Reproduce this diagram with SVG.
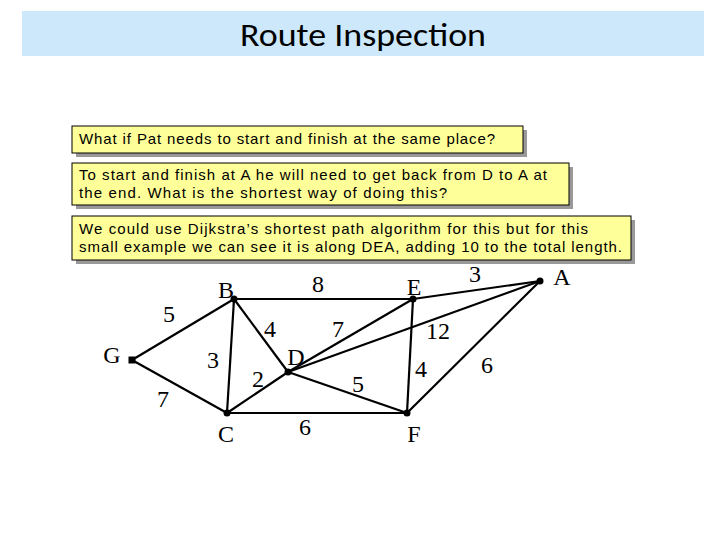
<svg xmlns="http://www.w3.org/2000/svg" width="720" height="540" viewBox="0 0 720 540">
<style>
.box{fill:#ffff99;stroke:#000;stroke-width:1}
.sh{fill:#999}
.bt{font-family:"Liberation Sans",Arial,sans-serif;font-size:15px;fill:#000}
.e{stroke:#000;stroke-width:2.2;fill:none}
.lb{font-family:"Liberation Serif","Times New Roman",serif;font-size:24px;fill:#000;text-anchor:middle}
</style>
<rect width="720" height="540" fill="#fff"/>
<rect x="22" y="11" width="682" height="45" fill="#cce8fa"/>
<text x="240" y="46" textLength="246" lengthAdjust="spacingAndGlyphs" font-family="Calibri,'Liberation Sans',sans-serif" font-size="32">Route Inspection</text>
<g id="box1"><rect class="sh" x="76" y="130" width="451" height="27"/><rect class="box" x="72" y="126" width="451" height="27"/><text class="bt" x="79" y="144" textLength="416">What if Pat needs to start and finish at the same place?</text></g>
<g id="box2"><rect class="sh" x="76" y="167" width="497" height="42"/><rect class="box" x="72" y="163" width="497" height="42"/><text class="bt" x="79" y="180" textLength="468">To start and finish at A he will need to get back from D to A at</text><text class="bt" x="79" y="198" textLength="368">the end.  What is the shortest way of doing this?</text></g>
<g id="box3"><rect class="sh" x="76" y="220" width="559" height="44"/><rect class="box" x="72" y="216" width="559" height="44"/><text class="bt" x="79" y="234" textLength="509">We could use Dijkstra’s shortest path algorithm for this but for this</text><text class="bt" x="79" y="252" textLength="543">small example we can see it is along DEA, adding 10 to the total length.</text></g>
<g id="edges">
<line class="e" x1="234" y1="299" x2="413" y2="299"/>
<line class="e" x1="413" y1="299" x2="540" y2="281"/>
<line class="e" x1="288" y1="372" x2="540" y2="281"/>
<line class="e" x1="407" y1="413" x2="540" y2="281"/>
<line class="e" x1="132" y1="360" x2="234" y2="299"/>
<line class="e" x1="132" y1="360" x2="227" y2="413"/>
<line class="e" x1="234" y1="299" x2="227" y2="413"/>
<line class="e" x1="234" y1="299" x2="288" y2="372"/>
<line class="e" x1="288" y1="372" x2="413" y2="299"/>
<line class="e" x1="227" y1="413" x2="288" y2="372"/>
<line class="e" x1="288" y1="372" x2="407" y2="413"/>
<line class="e" x1="413" y1="299" x2="407" y2="413"/>
<line class="e" x1="227" y1="413" x2="407" y2="413"/>
<g class="lb"><text x="318" y="292">8</text><text x="475" y="282">3</text><text x="169" y="322">5</text><text x="270" y="337">4</text><text x="338" y="337">7</text><text x="438" y="339">12</text><text x="213" y="368">3</text><text x="258" y="387">2</text><text x="358" y="392">5</text><text x="421" y="377">4</text><text x="487" y="373">6</text><text x="163" y="407">7</text><text x="305" y="435">6</text></g>
</g>
<g id="G"><rect x="128.500" y="356.500" width="7" height="7"/><text class="lb" x="112" y="363">G</text></g>
<g id="B"><circle cx="234" cy="299" r="3.500"/><text class="lb" x="226" y="298">B</text></g>
<g id="E"><circle cx="413" cy="299" r="3.500"/><text class="lb" x="414" y="295">E</text></g>
<g id="A"><circle cx="540" cy="281" r="3.500"/><text class="lb" x="562" y="285">A</text></g>
<g id="D"><circle cx="288" cy="372" r="3.500"/><text class="lb" x="296" y="365">D</text></g>
<g id="C"><circle cx="227" cy="413" r="3.500"/><text class="lb" x="226" y="442">C</text></g>
<g id="F"><circle cx="407" cy="413" r="3.500"/><text class="lb" x="414" y="442">F</text></g>
</svg>
